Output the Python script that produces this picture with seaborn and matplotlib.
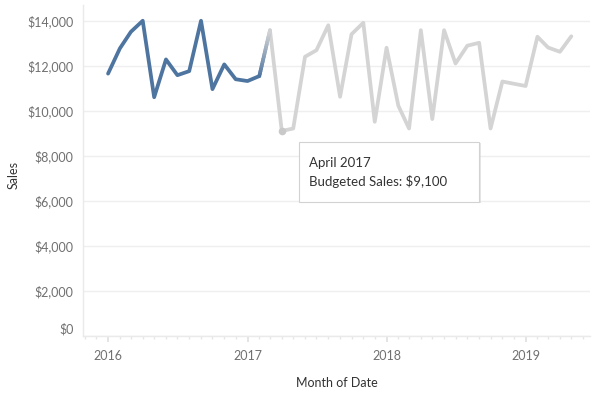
import numpy as np
import pandas as pd
import matplotlib
matplotlib.use("Agg")
import matplotlib.pyplot as plt
import matplotlib.dates as mdates
from matplotlib.collections import LineCollection
from matplotlib.patches import Rectangle
from matplotlib.ticker import FuncFormatter, MultipleLocator
import seaborn as sns

# Dados: vendas reais (Jan 2016 - Fev 2017) e orçadas (Mar 2017 - Mai 2019)
meses_reais = pd.date_range("2016-01-01", "2017-02-01", freq="MS")
vendas_reais = [11650, 12770, 13510, 14000, 10600, 12280, 11580, 11760,
                14000, 10960, 12060, 11400, 11320, 11540]

meses_orcados = pd.date_range("2017-03-01", "2019-05-01", freq="MS")
vendas_orcadas = [13580, 9100, 9210, 12400, 12690, 13800, 10620, 13400,
                  13910, 9510, 12800, 10220, 9210, 13580, 9630, 13580,
                  12100, 12890, 13020, 9210, 11300, 11200, 11100, 13290,
                  12810, 12620, 13310]

destaque_data = pd.Timestamp("2017-04-01")
destaque_valor = 9100

AZUL = "#4e74a0"
CINZA = "#d4d4d4"

sns.set_theme(style="white")
plt.rcParams["font.family"] = ["Lato", "DejaVu Sans"]

fig = plt.figure(figsize=(5.96, 3.96), dpi=100)
ax = fig.add_axes([83.3 / 596, 1 - 335.7 / 396, (590 - 83.3) / 596, (335.7 - 5) / 396])

df_reais = pd.DataFrame({"Data": meses_reais, "Sales": vendas_reais})
df_orcados = pd.DataFrame({"Data": meses_orcados, "Sales": vendas_orcadas})

sns.lineplot(data=df_reais, x="Data", y="Sales", color=AZUL, linewidth=2.7, ax=ax,
             solid_capstyle="round", zorder=3)
sns.lineplot(data=df_orcados, x="Data", y="Sales", color=CINZA, linewidth=2.7, ax=ax,
             solid_capstyle="round", zorder=2)

# Segmento de transição com gradiente azul -> cinza
x0 = mdates.date2num(meses_reais[-1]); y0 = vendas_reais[-1]
x1 = mdates.date2num(meses_orcados[0]); y1 = vendas_orcadas[0]
t = np.linspace(0, 1, 20)
xs = x0 + (x1 - x0) * t
ys = y0 + (y1 - y0) * t
segs = np.stack([np.column_stack([xs[:-1], ys[:-1]]), np.column_stack([xs[1:], ys[1:]])], axis=1)
c0 = np.array(matplotlib.colors.to_rgb(AZUL)); c1 = np.array(matplotlib.colors.to_rgb(CINZA))
cores = [c0 + (c1 - c0) * v for v in (t[:-1] + t[1:]) / 2]
ax.add_collection(LineCollection(segs, colors=cores, linewidths=2.7, capstyle="round", zorder=2.5))

# Ponto destacado
ax.scatter([destaque_data], [destaque_valor], s=30, color="#c9c9c9", zorder=4, linewidths=0)

# Eixos
ax.set_xlim(pd.Timestamp("2015-10-28"), pd.Timestamp("2019-06-19"))
ax.set_ylim(0, 14700)
ax.yaxis.set_major_locator(MultipleLocator(2000))
ax.yaxis.set_major_formatter(FuncFormatter(lambda v, p: f"${v:,.0f}"))
ax.xaxis.set_major_locator(mdates.YearLocator())
ax.xaxis.set_major_formatter(mdates.DateFormatter("%Y"))
ax.xaxis.set_minor_locator(mdates.MonthLocator())

ax.grid(axis="y", color="#efefef", linewidth=1)
ax.grid(axis="x", visible=False)
for lado in ["top", "right"]:
    ax.spines[lado].set_visible(False)
for lado in ["left", "bottom"]:
    ax.spines[lado].set_color("#eaeaea")
    ax.spines[lado].set_linewidth(1)

ax.tick_params(axis="y", length=0, labelsize=9, labelcolor="#707070", pad=7)
ax.tick_params(axis="x", which="major", length=4, color="#e0e0e0", labelsize=9,
               labelcolor="#707070", pad=6, bottom=True)
ax.tick_params(axis="x", which="minor", length=2.5, color="#e6e6e6", bottom=True)

# Rótulo $0 levemente deslocado para cima (como no original)
for lbl in ax.get_yticklabels():
    if lbl.get_text() == "$0":
        lbl.set_verticalalignment("bottom")

ax.set_xlabel("Month of Date", fontsize=9, color="#333333", labelpad=11)
ax.set_ylabel("Sales", fontsize=9, color="#333333")
ax.yaxis.set_label_coords((20 - 83.3) / 506.7, (335.7 - 175) / 330.7)

# Tooltip
px = lambda x: x / 596
py = lambda y: 1 - y / 396
largura = px(479.3) - px(299.3)
altura = py(141.7) - py(201.7)
fig.add_artist(Rectangle((px(300.8), py(203.2)), largura, altura,
                         transform=fig.transFigure, facecolor="#c8c8c8", edgecolor="none",
                         alpha=0.45, zorder=9))
fig.add_artist(Rectangle((px(299.3), py(201.7)), largura, altura,
                         transform=fig.transFigure, facecolor="white", edgecolor="#d2d2d2",
                         linewidth=0.8, zorder=10))
fig.text(px(309), py(163), "April 2017", fontsize=9.5, color="#333333", va="center", zorder=11)
fig.text(px(309), py(182), "Budgeted Sales: $9,100", fontsize=9.5, color="#333333",
         va="center", zorder=11)

fig.savefig("out.png", dpi=100)
